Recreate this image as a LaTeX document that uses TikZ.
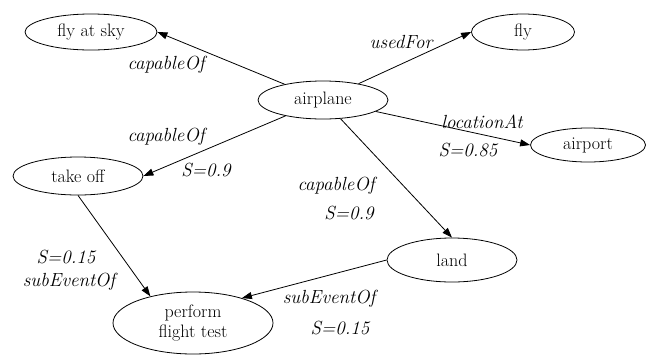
\documentclass[tikz,border=0pt]{standalone}
\usetikzlibrary{shapes.geometric,arrows.meta}
\begin{document}
\begin{tikzpicture}[x=1pt,y=-1pt,
  concept/.style={draw,ellipse,inner sep=0pt,line width=0.8pt,
    font=\fontsize{18}{21}\selectfont,align=center},
  rel/.style={draw,line width=0.8pt,-{Triangle[length=10pt,width=7pt]}},
  lbl/.style={font=\fontsize{19}{22}\selectfont\itshape,inner sep=0pt}]
\useasboundingbox (0,0) rectangle (650,354);

% concept nodes
\node[concept,minimum width=132pt,minimum height=36pt] (flysky)  at (91,32)   {fly at sky};
\node[concept,minimum width=130pt,minimum height=38pt] (airplane) at (323,100) {airplane};
\node[concept,minimum width=103pt,minimum height=36pt] (fly)     at (523,32)  {fly};
\node[concept,minimum width=115pt,minimum height=34pt] (airport) at (588,145) {airport};
\node[concept,minimum width=130pt,minimum height=38pt] (takeoff) at (78,176)  {take off};
\node[concept,minimum width=130pt,minimum height=44pt] (land)    at (452,260) {land};
\node[concept,minimum width=160pt,minimum height=62pt] (perform) at (193,323) {perform\\[-1pt]flight test};

% relations
\draw[rel] (airplane) -- (flysky.east);
\draw[rel] (airplane) -- (fly.west);
\draw[rel] (airplane) -- (takeoff.east);
\draw[rel] (airplane) -- (airport.west);
\draw[rel] (airplane) -- (land.north);
\draw[rel] (takeoff.south) -- (perform.148);
\draw[rel] (land.west) -- (perform.27);

% relation labels
\node[lbl] (l1)  at (166,65)  {capableOf};
\node[lbl] (l2)  at (401,42)  {usedFor};
\node[lbl] (l3)  at (166,137) {capableOf};
\node[lbl] (l4)  at (206,170) {S=0.9};
\node[lbl] (l5)  at (482,122) {locationAt};
\node[lbl] (l6)  at (468,150) {S=0.85};
\node[lbl] (l7)  at (336,186) {capableOf};
\node[lbl] (l8)  at (349,213) {S=0.9};
\node[lbl] (l9)  at (66,257)  {S=0.15};
\node[lbl] (l10) at (69,282)  {subEventOf};
\node[lbl] (l11) at (329,299) {subEventOf};
\node[lbl] (l12) at (340,328) {S=0.15};
\end{tikzpicture}
\end{document}
